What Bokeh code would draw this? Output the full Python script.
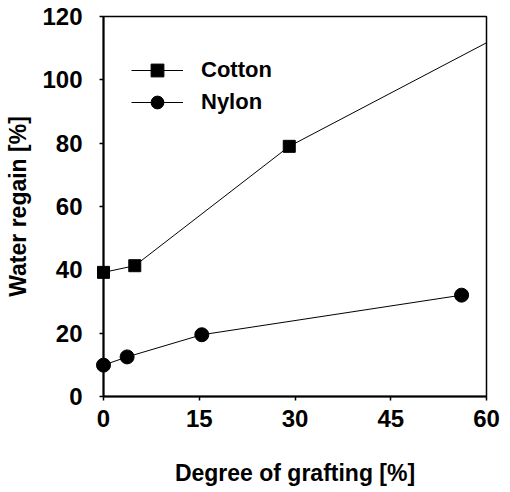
from bokeh.plotting import figure
from bokeh.models import Range1d, FixedTicker, Legend, LegendItem, ColumnDataSource, CDSView, BooleanFilter
from bokeh.embed import file_html
from bokeh.resources import INLINE

# Data
cotton_x = [0, 4.9, 29.1, 65.0]
cotton_y = [39.2, 41.3, 79.0, 117.0]
nylon_x = [0, 3.7, 15.4, 56.1]
nylon_y = [9.9, 12.5, 19.5, 32.0]

x_ticks = [0, 15, 30, 45, 60]
y_ticks = [0, 20, 40, 60, 80, 100, 120]

X_MAX = 60
FONT = "Liberation Sans"

p = figure(width=510, height=492, output_backend="svg", toolbar_location=None,
           x_range=Range1d(0, X_MAX), y_range=Range1d(0, 120),
           min_border_left=103, min_border_right=24, min_border_top=16, min_border_bottom=96)
p.grid.visible = False
p.background_fill_color = "white"
p.border_fill_color = "white"
p.outline_line_color = "black"
p.outline_line_width = 1.5

c_src = ColumnDataSource(dict(x=cotton_x, y=cotton_y))
n_src = ColumnDataSource(dict(x=nylon_x, y=nylon_y))
c_view = CDSView(filter=BooleanFilter([xv <= X_MAX for xv in cotton_x]))
n_view = CDSView(filter=BooleanFilter([xv <= X_MAX for xv in nylon_x]))

c_line = p.line("x", "y", source=c_src, line_color="black", line_width=1)
n_line = p.line("x", "y", source=n_src, line_color="black", line_width=1)
c_mark = p.scatter("x", "y", source=c_src, view=c_view, marker="square", size=12,
                   fill_color="black", line_color="black", level="overlay")
n_mark = p.scatter("x", "y", source=n_src, view=n_view, marker="circle", size=14,
                   fill_color="black", line_color="black", level="overlay")

for ax in (p.xaxis[0], p.yaxis[0]):
    ax.axis_line_width = 2
    ax.axis_line_color = "black"
    ax.major_tick_line_color = "black"
    ax.major_tick_line_width = 1.5
    ax.major_tick_in = 0
    ax.major_tick_out = 4
    ax.minor_tick_line_color = None
    ax.major_label_text_font = FONT
    ax.major_label_text_font_style = "bold"
    ax.major_label_text_font_size = "24px"
    ax.major_label_text_color = "black"
    ax.axis_label_text_font = FONT
    ax.axis_label_text_font_style = "bold"
    ax.axis_label_text_font_size = "23px"
    ax.axis_label_text_color = "black"

p.xaxis.ticker = FixedTicker(ticks=x_ticks)
p.yaxis.ticker = FixedTicker(ticks=y_ticks)
p.xaxis.axis_label = "Degree of grafting [%]"
p.yaxis.axis_label = "Water regain [%]"
p.xaxis.major_label_standoff = 9
p.yaxis.major_label_standoff = 17
p.xaxis.axis_label_standoff = 30
p.yaxis.axis_label_standoff = 8

legend = Legend(items=[LegendItem(label="Cotton", renderers=[c_line, c_mark]),
                       LegendItem(label="Nylon", renderers=[n_line, n_mark])],
                location=(28, 278), padding=0, spacing=0, margin=0,
                glyph_width=52, glyph_height=32, label_height=32, label_standoff=18,
                border_line_color=None, background_fill_alpha=0,
                label_text_font=FONT, label_text_font_style="bold",
                label_text_font_size="22px", label_text_color="black")
p.add_layout(legend)

open("out.html", "w").write(file_html(p, INLINE))
